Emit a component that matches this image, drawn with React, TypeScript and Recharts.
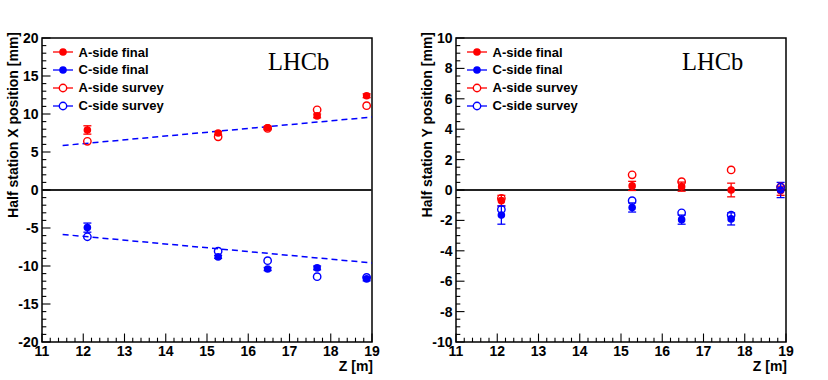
import React from "react";
import {
  ComposedChart,
  Scatter,
  XAxis,
  YAxis,
  ErrorBar,
  ReferenceLine,
  ReferenceArea,
  Legend,
} from "recharts";

// station positions along the beam [m]
const stationZ = [12.1, 15.27, 16.47, 17.67, 18.87];

// X positions [mm]
const aFinalX = [7.9, 7.5, 8.2, 9.75, 12.4];
const aFinalXErr = [0.55, 0.2, 0.2, 0.25, 0.25];
const aSurveyX = [6.4, 7.0, 8.1, 10.55, 11.1];
const cFinalX = [-4.95, -8.8, -10.4, -10.25, -11.7];
const cFinalXErr = [0.6, 0.2, 0.2, 0.25, 0.25];
const cSurveyX = [-6.15, -8.05, -9.3, -11.4, -11.5];

// dashed reference lines on the X plot
const fitZ = [11.5, 19];
const fitAX = [5.85, 9.6];
const fitCX = [-5.85, -9.6];

// Y positions [mm]
const aFinalY = [-0.7, 0.27, 0.22, 0.0, -0.05];
const aFinalYErr = [0.35, 0.3, 0.3, 0.45, 0.3];
const aSurveyY = [-0.55, 1.0, 0.55, 1.32, 0.2];
const cFinalY = [-1.65, -1.15, -1.95, -1.9, 0.0];
const cFinalYErr = [0.6, 0.3, 0.3, 0.4, 0.5];
const cSurveyY = [-1.28, -0.7, -1.5, -1.65, 0.18];

const legendOrder = ["A-side final", "C-side final", "A-side survey", "C-side survey"];

// axis ticks
const zMajor = [11, 12, 13, 14, 15, 16, 17, 18, 19];
const xMajor = [-20, -15, -10, -5, 0, 5, 10, 15, 20];
const yMajor = [-10, -8, -6, -4, -2, 0, 2, 4, 6, 8, 10];

const RED = "#ff0000";
const BLUE = "#0000ff";
const FONT = '"Liberation Sans", Arial, Helvetica, sans-serif';

const steps = (from: number, to: number, step: number) => {
  const out: number[] = [];
  for (let v = from; v <= to + 1e-9; v += step) out.push(Math.round(v * 100) / 100);
  return out;
};

const zTicks = steps(11, 19, 0.2);
const xTicks = steps(-20, 20, 1);
const yTicks = steps(-10, 10, 0.5);

const isMajor = (majors: number[], v: number) => majors.some((m) => Math.abs(m - v) < 1e-6);

const zip = (vals: number[], errs?: number[]) =>
  stationZ.map((z, i) => ({ z, v: vals[i], err: errs ? errs[i] : 0 }));

const makeYTick = (majors: number[]) => (props: any) => {
  const { x, y, payload } = props;
  const major = isMajor(majors, payload.value);
  const ax = x + 3;
  return (
    <g>
      <line x1={ax} x2={ax + (major ? 8.5 : 4.3)} y1={y} y2={y} stroke="#000" strokeWidth={1.1} />
      {major && (
        <text x={x - 0.5} y={y} dy="0.36em" textAnchor="end" fontFamily={FONT} fontWeight="bold" fontSize={14} fill="#000">
          {payload.value}
        </text>
      )}
    </g>
  );
};

const ZTick = (props: any) => {
  const { x, y, payload } = props;
  const major = isMajor(zMajor, payload.value);
  const ay = y - 3.5;
  return (
    <g>
      <line x1={x} x2={x} y1={ay} y2={ay - (major ? 8.5 : 4.3)} stroke="#000" strokeWidth={1.1} />
      {major && (
        <text x={x} y={y} dy="0.72em" textAnchor="middle" fontFamily={FONT} fontWeight="bold" fontSize={14} fill="#000">
          {payload.value}
        </text>
      )}
    </g>
  );
};

const filledDot = (color: string) => (p: any) => <circle cx={p.cx} cy={p.cy} r={3.8} fill={color} />;
const openDot = (color: string) => (p: any) => (
  <circle cx={p.cx} cy={p.cy} r={3.7} fill="none" stroke={color} strokeWidth={1.4} />
);

const LegendBox = (props: any) => {
  const names = (props.payload || [])
    .map((entry: any) => entry.value)
    .filter((v: any) => legendOrder.includes(v))
    .sort((a: string, b: string) => legendOrder.indexOf(a) - legendOrder.indexOf(b));
  return (
    <div style={{ fontFamily: FONT, fontWeight: "bold", fontSize: 13, color: "#000" }}>
      {names.map((name: string) => {
        const color = name.startsWith("A") ? RED : BLUE;
        const open = name.includes("survey");
        return (
          <div key={name} style={{ display: "flex", alignItems: "center", height: 17.8 }}>
            <svg width={20} height={10} style={{ display: "block" }}>
              <line x1={0} x2={20} y1={5} y2={5} stroke={color} strokeWidth={1.3} />
              {open ? (
                <circle cx={10} cy={5} r={3.7} fill="#fff" stroke={color} strokeWidth={1.4} />
              ) : (
                <circle cx={10} cy={5} r={3.8} fill={color} />
              )}
            </svg>
            <span style={{ marginLeft: 5.5, lineHeight: 1 }}>{name}</span>
          </div>
        );
      })}
    </div>
  );
};

type PanelProps = {
  yDomain: [number, number];
  ticks: number[];
  majors: number[];
  title: string;
  aFinal: number[];
  aFinalErr: number[];
  aSurvey: number[];
  cFinal: number[];
  cFinalErr: number[];
  cSurvey: number[];
  fitA?: number[];
  fitC?: number[];
};

function Panel(p: PanelProps) {
  return (
    <ComposedChart width={414} height={380} margin={{ top: 38, right: 42, bottom: 8, left: 12 }}>
      <XAxis
        type="number"
        dataKey="z"
        domain={[11, 19]}
        ticks={zTicks}
        interval={0}
        allowDataOverflow
        height={30}
        tickSize={0}
        tickMargin={3.5}
        axisLine={false}
        tickLine={false}
        tick={ZTick}
        label={() => (
          <text x={373} y={370.5} textAnchor="end" fontFamily={FONT} fontWeight="bold" fontSize={14} fill="#000">
            Z [m]
          </text>
        )}
      />
      <YAxis
        type="number"
        dataKey="v"
        domain={p.yDomain}
        ticks={p.ticks}
        interval={0}
        allowDataOverflow
        width={30}
        tickSize={0}
        tickMargin={3}
        axisLine={false}
        tickLine={false}
        tick={makeYTick(p.majors)}
        label={() => (
          <text
            x={17.5}
            y={32}
            transform="rotate(-90 17.5 32)"
            textAnchor="end"
            fontFamily={FONT}
            fontWeight="bold"
            fontSize={14}
            fill="#000"
          >
            {p.title}
          </text>
        )}
      />
      <ReferenceLine y={0} stroke="#222" strokeWidth={1.8} />
      {p.fitA && (
        <Scatter
          data={fitZ.map((z, i) => ({ z, v: p.fitA![i] }))}
          line={{ stroke: BLUE, strokeWidth: 1.5, strokeDasharray: "6 4" }}
          shape={() => <g />}
          legendType="none"
          isAnimationActive={false}
        />
      )}
      {p.fitC && (
        <Scatter
          data={fitZ.map((z, i) => ({ z, v: p.fitC![i] }))}
          line={{ stroke: BLUE, strokeWidth: 1.5, strokeDasharray: "6 4" }}
          shape={() => <g />}
          legendType="none"
          isAnimationActive={false}
        />
      )}
      <Scatter name="A-side final" data={zip(p.aFinal, p.aFinalErr)} fill={RED} shape={filledDot(RED)} isAnimationActive={false}>
        <ErrorBar dataKey="err" direction="y" width={4} stroke={RED} strokeWidth={1.3} />
      </Scatter>
      <Scatter name="C-side final" data={zip(p.cFinal, p.cFinalErr)} fill={BLUE} shape={filledDot(BLUE)} isAnimationActive={false}>
        <ErrorBar dataKey="err" direction="y" width={4} stroke={BLUE} strokeWidth={1.3} />
      </Scatter>
      <Scatter name="A-side survey" data={zip(p.aSurvey)} fill={RED} shape={openDot(RED)} isAnimationActive={false} />
      <Scatter name="C-side survey" data={zip(p.cSurvey)} fill={BLUE} shape={openDot(BLUE)} isAnimationActive={false} />
      <ReferenceArea x1={11} x2={19} y1={p.yDomain[0]} y2={p.yDomain[1]} fill="none" stroke="#000" strokeWidth={1.5} />
      <Legend
        layout="vertical"
        align="center"
        verticalAlign="middle"
        content={LegendBox}
        wrapperStyle={{ top: 43.3, left: 53, width: "auto", height: "auto" }}
      />
      <text x={268} y={70} fontFamily='"Liberation Serif", "Times New Roman", serif' fontSize={24.5} fill="#000">
        LHCb
      </text>
    </ComposedChart>
  );
}

export default function App() {
  return (
    <div style={{ position: "absolute", left: 0, top: 0, width: 828, height: 380, background: "#fff" }}>
      <div style={{ position: "absolute", left: 0, top: 0 }}>
        <Panel
          yDomain={[-20, 20]}
          ticks={xTicks}
          majors={xMajor}
          title="Half station X position [mm]"
          aFinal={aFinalX}
          aFinalErr={aFinalXErr}
          aSurvey={aSurveyX}
          cFinal={cFinalX}
          cFinalErr={cFinalXErr}
          cSurvey={cSurveyX}
          fitA={fitAX}
          fitC={fitCX}
        />
      </div>
      <div style={{ position: "absolute", left: 414, top: 0 }}>
        <Panel
          yDomain={[-10, 10]}
          ticks={yTicks}
          majors={yMajor}
          title="Half station Y position [mm]"
          aFinal={aFinalY}
          aFinalErr={aFinalYErr}
          aSurvey={aSurveyY}
          cFinal={cFinalY}
          cFinalErr={cFinalYErr}
          cSurvey={cSurveyY}
        />
      </div>
    </div>
  );
}
